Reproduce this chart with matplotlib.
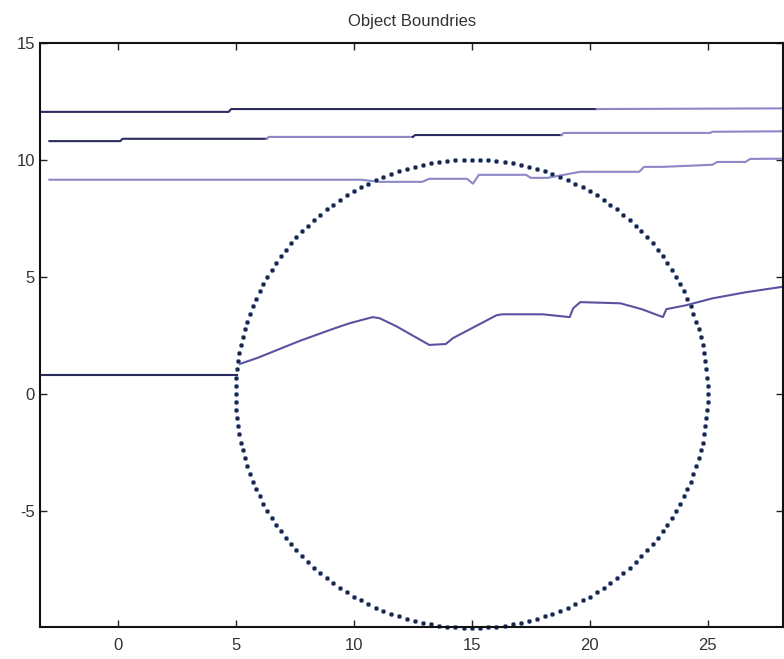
import numpy as np
import matplotlib
matplotlib.use("Agg")
import matplotlib.pyplot as plt

plt.rcParams['font.family'] = ['Liberation Sans Narrow', 'Liberation Sans', 'DejaVu Sans']
plt.rcParams['axes.unicode_minus'] = False

title = "Object Boundries"
xticks = [0, 5, 10, 15, 20, 25]
yticks = [-5, 0, 5, 10, 15]

# circle (object)
circle_cx, circle_cy, circle_r, circle_n = 15.0, 0.0, 10.0, 180

# boundary lines
line1_x = [-3.3, 4.7, 4.8, 20.3]
line1_y = [12.05, 12.05, 12.17, 12.17]
line1b_x = [20.3, 28.2]
line1b_y = [12.17, 12.2]

line2_x = [-2.9, 0.1, 0.2, 6.3]
line2_y = [10.8, 10.8, 10.9, 10.9]
line2b_x = [6.3, 6.4, 12.5]
line2b_y = [10.9, 10.98, 10.98]
line2c_x = [12.5, 12.6, 18.8]
line2c_y = [10.98, 11.06, 11.06]
line2d_x = [18.8, 18.9, 25.1, 25.2, 28.2]
line2d_y = [11.06, 11.15, 11.15, 11.2, 11.22]

line3_x = [-2.9, 10.3, 11.1, 12.9, 13.2, 14.8, 15.05, 15.3, 17.3, 17.5, 18.2,
           19.6, 22.1, 22.3, 23.1, 25.2, 25.4, 26.6, 26.8, 28.2]
line3_y = [9.15, 9.15, 9.06, 9.06, 9.19, 9.19, 8.98, 9.36, 9.36, 9.23, 9.23,
           9.49, 9.49, 9.7, 9.7, 9.79, 9.91, 9.91, 10.04, 10.05]

line4a_x = [-3.3, 5.04]
line4a_y = [0.81, 0.81]
line4_x = [5.17, 5.9, 7.7, 9.1, 9.83, 10.8, 11.1, 11.8, 13.2, 13.9, 14.2, 16.05,
           16.3, 18.0, 19.15, 19.3, 19.6, 21.3, 22.2, 23.1, 23.25, 24.1, 25.2,
           26.6, 28.2]
line4_y = [1.28, 1.53, 2.26, 2.77, 3.02, 3.28, 3.23, 2.89, 2.09, 2.13, 2.38, 3.36,
           3.4, 3.4, 3.28, 3.66, 3.92, 3.87, 3.62, 3.28, 3.62, 3.79, 4.08,
           4.34, 4.58]

dark = '#2a2a5e'
mid = '#5a52a0'
light = '#8c88c8'

fig = plt.figure(figsize=(7.84, 6.59), dpi=100)
ax = fig.add_axes([0.051, 0.049, 0.948, 0.886])

lw = 1.5
ax.plot(line1_x, line1_y, color=dark, lw=lw)
ax.plot(line1b_x, line1b_y, color=light, lw=lw)
ax.plot(line2_x, line2_y, color=dark, lw=lw)
ax.plot(line2b_x, line2b_y, color=light, lw=lw)
ax.plot(line2c_x, line2c_y, color=dark, lw=lw)
ax.plot(line2d_x, line2d_y, color=light, lw=lw)
ax.plot(line3_x, line3_y, color=light, lw=lw)
ax.plot(line4a_x, line4a_y, color=dark, lw=lw)
ax.plot(line4_x, line4_y, color=mid, lw=lw)

t = np.linspace(0, 2 * np.pi, circle_n, endpoint=False)
ax.plot(circle_cx + circle_r * np.cos(t), circle_cy + circle_r * np.sin(t),
        linestyle='none', marker='o', markersize=3.2, color='#1c2444',
        markeredgecolor='#6a8ab8', markeredgewidth=0.4, clip_on=False)

ax.set_xlim(-3.3, 28.2)
ax.set_ylim(-9.95, 15)
ax.set_xticks(xticks)
ax.set_yticks(yticks)
ax.tick_params(direction='in', top=True, right=True, length=5, width=1,
               labelsize=12, labelcolor='#333333', colors='#222222')
ax.tick_params(axis='x', pad=8)
for s in ax.spines.values():
    s.set_linewidth(1.5)
    s.set_color('#111111')
ax.set_title(title, fontsize=12, color='#333333', pad=12)

fig.savefig('out.png', dpi=100)
